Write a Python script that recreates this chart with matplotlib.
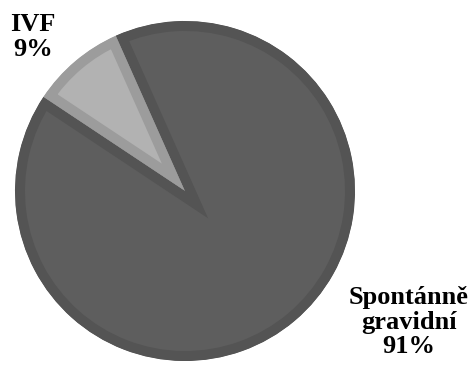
import matplotlib.pyplot as plt

# podíl těhotenství
labels = ['IVF', 'Spontánně\ngravidní']
values = [9, 91]
pct_labels = ['9%', '91%']

fill_colors = ['#b2b2b2', '#5e5e5e']
edge_colors = ['#9c9c9c', '#545454']

fig = plt.figure(figsize=(4.73, 3.65), dpi=100)
ax = fig.add_axes([0, 0, 1, 1])

wedges, _ = ax.pie(values, startangle=114, center=(185, 174), radius=170,
                   colors=fill_colors)
for w, ec in zip(wedges, edge_colors):
    # stroke clipped to the wedge -> border only on the inside
    w.set_edgecolor(ec)
    w.set_linewidth(14.4)
    w.set_joinstyle('miter')
    w.set_clip_on(True)
    w.set_clip_path(w)

ax.set_xlim(0, 473)
ax.set_ylim(0, 365)
ax.set_aspect('equal')
ax.axis('off')

font = dict(family='Liberation Serif', weight='bold', size=19, color='black',
            ha='center', va='center', linespacing=1.1)
ax.text(33, 365 - 37, labels[0] + '\n' + pct_labels[0], **font)
ax.text(409, 365 - 322, labels[1] + '\n' + pct_labels[1], **font)

fig.savefig('out.png', dpi=100, facecolor='white')
